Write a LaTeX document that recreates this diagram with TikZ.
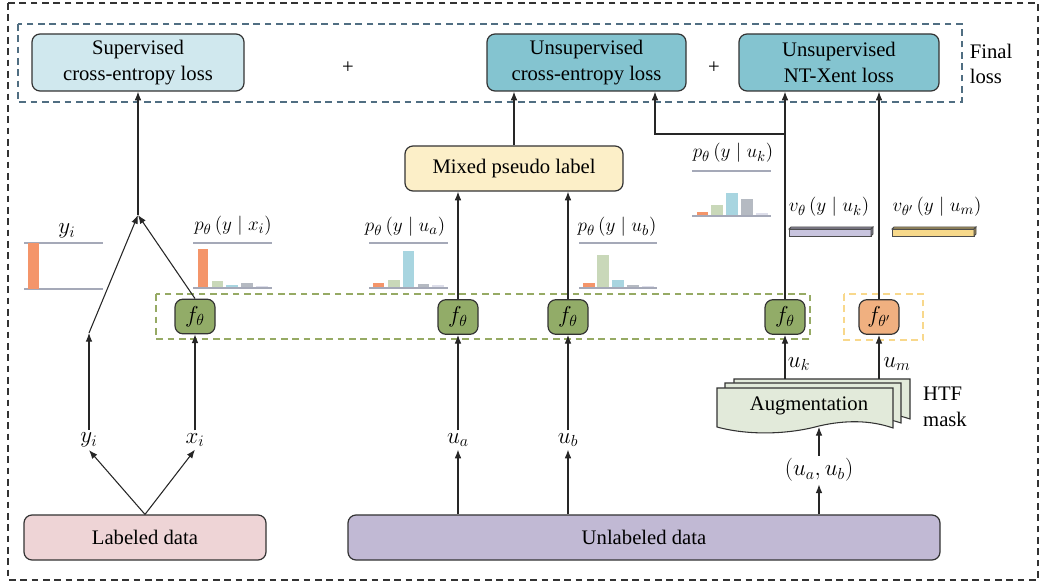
\documentclass[tikz,border=0pt]{standalone}
\usepackage{fontspec}
\setmainfont{Liberation Serif}
\usetikzlibrary{arrows.meta}
\definecolor{supc}{HTML}{D0E8EE}
\definecolor{unsc}{HTML}{84C4D0}
\definecolor{mixc}{HTML}{FCEFC8}
\definecolor{fgc}{HTML}{92AC68}
\definecolor{fpc}{HTML}{F0B080}
\definecolor{labc}{HTML}{EED4D6}
\definecolor{unlc}{HTML}{C1B9D4}
\definecolor{augc}{HTML}{E2EADA}
\definecolor{fldash}{HTML}{506E82}
\definecolor{gdash}{HTML}{96AA64}
\definecolor{ydash}{HTML}{F8D88C}
\definecolor{bor}{HTML}{F4956A}
\definecolor{bgr}{HTML}{C9D8B9}
\definecolor{bbl}{HTML}{A8D5E0}
\definecolor{bgy}{HTML}{B5BAC2}
\definecolor{blt}{HTML}{DDDEEA}
\definecolor{basec}{HTML}{A5A9B8}
\definecolor{lavc}{HTML}{C8C4DE}
\definecolor{yelc}{HTML}{F7D98B}
\newcommand{\augpath}{(717,388) -- (893,388) -- (893,428) .. controls (870,420) and (845,420) .. (819,426) .. controls (790,434) and (750,436) .. (717,427) -- cycle}
\begin{document}
\begin{tikzpicture}[x=0.75pt,y=-0.75pt,
  font=\fontsize{15.5}{19}\selectfont,
  box/.style={draw=black!80, line width=0.9pt, rounded corners=6pt, align=center, inner sep=0pt},
  fbox/.style={box, minimum width=30pt, minimum height=26pt, font=\fontsize{17}{19}\selectfont},
  arr/.style={-{Latex[length=6.5pt,width=5pt]}, line width=0.8pt, draw=black!85},
  lbl/.style={inner sep=2pt, font=\fontsize{18}{20}\selectfont},
  plbl/.style={inner sep=1pt, font=\fontsize{15.8}{19}\selectfont},
  base/.style={draw=basec, line width=1pt},
  odash/.style={draw=black!80, line width=0.8pt, dash pattern=on 5pt off 3.5pt},
]
\useasboundingbox (0,0) rectangle (1043,584);
% outer and group boxes
\draw[odash] (8,3) rectangle (1038,580);
\draw[draw=fldash, line width=0.9pt, dash pattern=on 5pt off 3.5pt] (18,24) rectangle (962,102);
\draw[draw=gdash, line width=0.9pt, dash pattern=on 5pt off 3.5pt] (156,294) rectangle (810,339);
\draw[draw=ydash, line width=0.9pt, dash pattern=on 5pt off 3.5pt] (844,294) rectangle (923,340);

% loss boxes
\node[box, fill=supc, minimum width=159pt, minimum height=42.75pt] (sup) at (138,62.5) {Supervised\\cross-entropy loss};
\node[box, fill=unsc, minimum width=149.25pt, minimum height=42.75pt] (ce) at (586.5,62.5) {Unsupervised\\cross-entropy loss};
\node[box, fill=unsc, minimum width=150pt, minimum height=42.75pt] (nt) at (839,62.5) {Unsupervised\\NT-Xent loss};
\node (p1) at (348,68) {+};
\node (p2) at (714,68) {+};
\node[align=left] (fl) at (991,64) {Final\\loss};

% mixed pseudo label
\node[box, fill=mixc, minimum width=163.5pt, minimum height=33.75pt] (mix) at (514,168.5) {Mixed pseudo label};

% models
\node[fbox, fill=fgc] (f1) at (195,316.5) {$f_\theta$};
\node[fbox, fill=fgc] (f2) at (458,317) {$f_\theta$};
\node[fbox, fill=fgc] (f3) at (568,317) {$f_\theta$};
\node[fbox, fill=fgc] (f4) at (785,317) {$f_\theta$};
\node[fbox, fill=fpc] (f5) at (879,317) {$f_{\theta'}$};

% data boxes
\node[box, fill=labc, minimum width=181.5pt, minimum height=33.75pt] (lab) at (145,537.5) {Labeled data};
\node[box, fill=unlc, minimum width=444pt, minimum height=33.75pt] (unl) at (644,537.5) {Unlabeled data};

% input labels
\node[lbl] (yi) at (89,440) {$y_i$};
\node[lbl] (xi) at (195,440) {$x_i$};
\node[lbl] (ua) at (458,440) {$u_a$};
\node[lbl] (ub) at (568,440) {$u_b$};
\node[lbl] (uab) at (819,470) {$(u_a, u_b)$};

% augmentation stack
\begin{scope}[shift={(17,-9)}]
\draw[fill=augc, draw=black!80, line width=0.8pt] \augpath;
\end{scope}
\begin{scope}[shift={(8,-5)}]
\draw[fill=augc, draw=black!80, line width=0.8pt] \augpath;
\end{scope}
\draw[fill=augc, draw=black!80, line width=0.8pt] \augpath;
\node (aug) at (809,406) {Augmentation};
\node[align=left] (htf) at (945,407) {HTF\\mask};
\coordinate (augk) at (785,379);
\coordinate (augm) at (879,379);
\coordinate (augb) at (819,427);
\node[lbl] (uk) at (799,364) {$u_k$};
\node[lbl] (um) at (897,364) {$u_m$};

% distribution labels
\node[lbl] (lyi) at (67,231) {$y_i$};
\node[plbl] (lpx) at (233,226) {$p_\theta\,(y\mid x_i)$};
\node[plbl] (lpa) at (405,227) {$p_\theta\,(y\mid u_a)$};
\node[plbl] (lpb) at (617,227) {$p_\theta\,(y\mid u_b)$};
\node[plbl] (lpk) at (733,153) {$p_\theta\,(y\mid u_k)$};
\node[plbl] (lvk) at (829,207) {$v_\theta\,(y\mid u_k)$};
\node[plbl] (lvm) at (937,207) {$v_{\theta'}\,(y\mid u_m)$};

% histograms
\draw[base] (24,243) -- (103,243);
\draw[base] (24,289) -- (103,289);
\fill[bor] (28,243) rectangle (39,289);

\draw[base] (193,243) -- (272,243);
\fill[bor] (198,249) rectangle (208,288);
\fill[bgr] (212,281) rectangle (223,288);
\fill[bbl] (226,285) rectangle (238,288);
\fill[bgy] (241,283) rectangle (253,288);
\fill[blt] (256,286) rectangle (268,288);
\draw[base] (193,288) -- (272,288);

\draw[base] (369,243) -- (448,243);
\fill[bor] (373,283) rectangle (384,288);
\fill[bgr] (388,280) rectangle (400,288);
\fill[bbl] (403,251) rectangle (414,288);
\fill[bgy] (418,284) rectangle (429,288);
\fill[blt] (432,285) rectangle (444,288);
\draw[base] (369,288) -- (448,288);

\draw[base] (579,243) -- (657,243);
\fill[bor] (583,283) rectangle (595,288);
\fill[bgr] (597,255) rectangle (609,288);
\fill[bbl] (612,280) rectangle (624,288);
\fill[bgy] (627,285) rectangle (639,288);
\fill[blt] (642,286) rectangle (654,288);
\draw[base] (579,288) -- (657,288);

\draw[base] (692,171) -- (771,171);
\fill[bor] (697,212) rectangle (708,216);
\fill[bgr] (711,205) rectangle (723,216);
\fill[bbl] (726,193) rectangle (738,216);
\fill[bgy] (741,199) rectangle (753,216);
\fill[blt] (756,213) rectangle (768,216);
\draw[base] (692,216) -- (771,216);

% embedding bars
\draw[fill=lavc, draw=black!70, line width=0.6pt] (789,229) rectangle (871,236);
\draw[fill=lavc!70!black, draw=black!70, line width=0.6pt] (789,229) -- (791,227) -- (873,227) -- (871,229) -- cycle;
\draw[fill=lavc!60!black, draw=black!70, line width=0.6pt] (871,229) -- (873,227) -- (873,234) -- (871,236) -- cycle;
\draw[fill=yelc, draw=black!70, line width=0.6pt] (892,229) rectangle (974,236);
\draw[fill=yelc!70!black, draw=black!70, line width=0.6pt] (892,229) -- (894,227) -- (976,227) -- (974,229) -- cycle;
\draw[fill=yelc!60!black, draw=black!70, line width=0.6pt] (974,229) -- (976,227) -- (976,234) -- (974,236) -- cycle;

% connectors
\coordinate (yk) at (89,333);
\coordinate (jn) at (138,215);
\coordinate (brl) at (655,134);
\draw[arr] (lab.north) -- (yi.south);
\draw[arr] (lab.north) -- (xi.south);
\draw[arr] (yi.north) -- (yk);
\draw[arr] (yk) -- (jn);
\draw[arr] (xi.north) -- (f1.south);
\draw[arr] (f1.north) -- (jn);
\draw[arr] (jn) -- (sup.south);
\draw[arr] (unl.north -| ua) -- (ua.south);
\draw[arr] (unl.north -| ub) -- (ub.south);
\draw[arr] (unl.north -| uab) -- (uab.south);
\draw[arr] (ua.north) -- (f2.south);
\draw[arr] (ub.north) -- (f3.south);
\draw[arr] (f2.north) -- (f2 |- mix.south);
\draw[arr] (f3.north) -- (f3 |- mix.south);
\draw[arr] (mix.north) -- (mix.north |- ce.south);
\draw[arr] (f4.north) -- (f4 |- nt.south);
\draw[arr] (f4 |- brl) -- (brl) -- (brl |- ce.south);
\draw[arr] (f5.north) -- (f5 |- nt.south);
\draw[arr] (uab.north) -- (augb);
\draw[arr] (augk) -- (f4.south);
\draw[arr] (augm) -- (f5.south);
\end{tikzpicture}
\end{document}
